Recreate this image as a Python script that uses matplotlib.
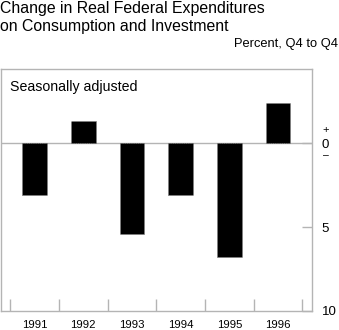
import matplotlib
matplotlib.use("Agg")
import matplotlib.pyplot as plt
import numpy as np

years = ["1991", "1992", "1993", "1994", "1995", "1996"]
values = [-3.1, 1.3, -5.4, -3.1, -6.8, 2.4]
ytick_vals = [0, -5, -10]
ytick_labels = ["0", "5", "10"]

plt.rcParams['font.family'] = ['Liberation Sans', 'DejaVu Sans']
gray = '#b4b4b4'

fig = plt.figure(figsize=(3.39, 3.30), dpi=100)
ax = fig.add_axes([0.0015, 0.0576, 0.9190, 0.7334])

x = np.arange(len(years))
ax.bar(x, values, width=0.505, color='black', edgecolor='#808080',
       linewidth=0.6, linestyle=':', zorder=3)
ax.axhline(0, color=gray, lw=1.0, zorder=2)

ax.set_xlim(-0.7, len(years) - 0.3)
ax.set_ylim(-10, 4.42)

for s in ax.spines.values():
    s.set_color(gray)
    s.set_linewidth(1.0)

# x: boundary ticks (major), labels on minor ticks at centers
bounds = np.arange(-0.5, len(years), 1.0)
ax.set_xticks(bounds)
ax.set_xticklabels([''] * len(bounds))
ax.tick_params(axis='x', which='major', direction='in', length=9, width=1.0,
               color=gray)
for i, t in enumerate(ax.xaxis.get_major_ticks()):
    if i % 2 == 0:
        t.tick1line.set_color('#dedede')
ax.set_xticks(x, minor=True)
ax.set_xticklabels(years, minor=True, fontsize=8.2)
ax.tick_params(axis='x', which='minor', length=0, pad=6.5)

# y on the right
ax.yaxis.tick_right()
ax.set_yticks(ytick_vals)
ax.set_yticklabels(ytick_labels, fontsize=9.5)
ax.tick_params(axis='y', direction='in', length=7, width=1.0, color=gray, pad=7)
ax.text(1.044, 0.8, '+', transform=ax.get_yaxis_transform(), ha='center',
        va='center', fontsize=8)
ax.text(1.044, -0.72, '\u2013', transform=ax.get_yaxis_transform(), ha='center',
        va='center', fontsize=7.5)

fig.text(0.0, 0.996, "Change in Real Federal Expenditures\non Consumption and Investment",
         ha='left', va='top', fontsize=11.4, linespacing=1.2)
fig.text(0.997, 0.868, "Percent, Q4 to Q4", ha='right', va='center', fontsize=9.3)
ax.text(0.03, 0.955, "Seasonally adjusted", transform=ax.transAxes,
        ha='left', va='top', fontsize=10.2)

fig.savefig("out.png", dpi=100)
